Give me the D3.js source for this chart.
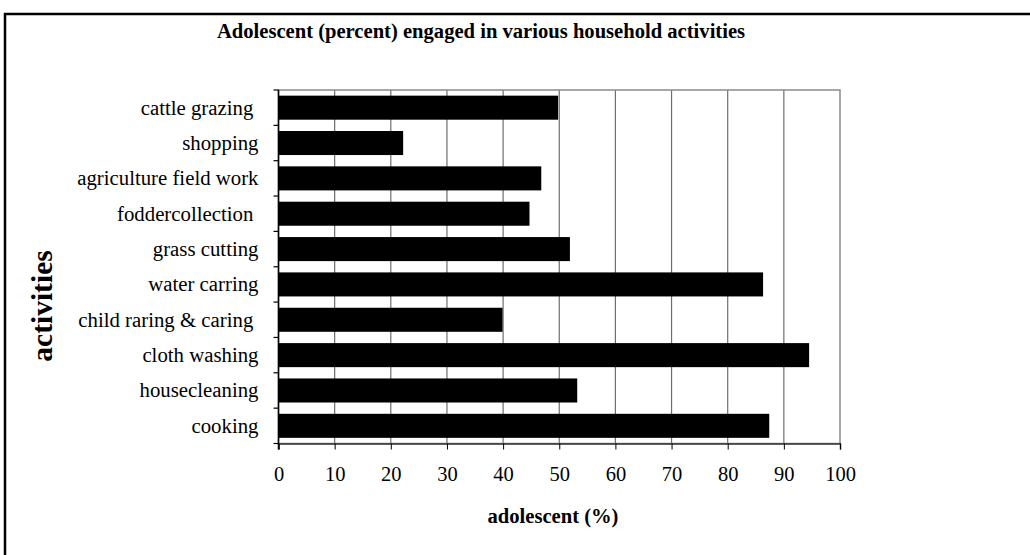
<!DOCTYPE html>
<html>
<head>
<meta charset="utf-8">
<script src="https://cdn.jsdelivr.net/npm/d3@7"></script>
<style>
  html, body { margin: 0; padding: 0; background: #fff; }
  svg { display: block; font-family: "Liberation Serif", "Times New Roman", serif; }
  .cat { white-space: pre; }
</style>
</head>
<body>
<script>
// Household activities, listed top to bottom
const categories = [
  "cattle grazing ",
  "shopping",
  "agriculture field work",
  "foddercollection ",
  "grass cutting",
  "water carring",
  "child raring & caring ",
  "cloth washing",
  "housecleaning",
  "cooking"
];
// Share of adolescents engaged in each activity (%)
const values = [49.8, 22.2, 46.8, 44.7, 51.9, 86.3, 39.9, 94.5, 53.2, 87.4];
const xTicks = [0, 10, 20, 30, 40, 50, 60, 70, 80, 90, 100];

const titleText = "Adolescent (percent) engaged in various household activities";
const xTitle = "adolescent (%)";
const yTitle = "activities";

const W = 1030, H = 555;
const plot = { left: 278.5, right: 840, top: 90, bottom: 443.5 };

const svg = d3.select("body").append("svg")
  .attr("width", W).attr("height", H);

// outer frame (open to the right and bottom)
svg.append("path")
  .attr("d", `M5,${H + 5} V14 H${W + 5}`)
  .attr("fill", "none").attr("stroke", "#000").attr("stroke-width", 2.5);

const x = d3.scaleLinear().domain([0, 100]).range([plot.left, plot.right]);
const y = d3.scaleBand().domain(categories)
  .range([plot.top, plot.bottom])
  .paddingInner(0.32).paddingOuter(0.16);

// vertical gridlines
svg.append("g").selectAll("line")
  .data(xTicks.filter(t => t > 0 && t < 100))
  .join("line")
  .attr("x1", d => x(d)).attr("x2", d => x(d))
  .attr("y1", plot.top).attr("y2", plot.bottom)
  .attr("stroke", "#6e6e6e").attr("stroke-width", 1.2);

// plot frame
svg.append("rect")
  .attr("x", plot.left).attr("y", plot.top)
  .attr("width", plot.right - plot.left).attr("height", plot.bottom - plot.top)
  .attr("fill", "none").attr("stroke", "#8a8a8a").attr("stroke-width", 1.5);

// bars
svg.append("g").selectAll("rect")
  .data(categories)
  .join("rect")
  .attr("x", x(0))
  .attr("y", d => y(d))
  .attr("width", (d, i) => x(values[i]) - x(0))
  .attr("height", y.bandwidth())
  .attr("fill", "#000");

// x axis
const xAxis = svg.append("g")
  .attr("transform", `translate(0,${plot.bottom})`)
  .call(d3.axisBottom(x).tickValues(xTicks).tickSize(6).tickPadding(17))
  .call(g => g.select(".domain").attr("stroke", "#333").attr("stroke-width", 1.5));
xAxis.selectAll(".tick line").attr("stroke", "#000");
xAxis.selectAll("text").attr("font-size", 20.5).attr("font-family", "Liberation Serif").attr("fill", "#000");

// y axis line and ticks at category boundaries
svg.append("line")
  .attr("x1", plot.left).attr("x2", plot.left)
  .attr("y1", plot.top).attr("y2", plot.bottom + 6)
  .attr("stroke", "#000").attr("stroke-width", 1.5);
svg.append("g").selectAll("line")
  .data(d3.range(categories.length + 1))
  .join("line")
  .attr("x1", plot.left - 5).attr("x2", plot.left)
  .attr("y1", i => plot.top + i * (plot.bottom - plot.top) / categories.length)
  .attr("y2", i => plot.top + i * (plot.bottom - plot.top) / categories.length)
  .attr("stroke", "#000").attr("stroke-width", 1.2);

// category labels
svg.append("g").selectAll("text")
  .data(categories)
  .join("text")
  .attr("class", "cat")
  .attr("x", plot.left - 20)
  .attr("y", d => y(d) + y.bandwidth() / 2)
  .attr("dy", "0.33em")
  .attr("text-anchor", "end")
  .attr("font-size", 20.8)
  .text(d => d);

// title
svg.append("text")
  .attr("x", 481).attr("y", 38)
  .attr("text-anchor", "middle")
  .attr("font-size", 20.6).attr("font-weight", "bold")
  .text(titleText);

// x axis title
svg.append("text")
  .attr("x", 553).attr("y", 523)
  .attr("text-anchor", "middle")
  .attr("font-size", 20.6).attr("font-weight", "bold")
  .text(xTitle);

// y axis title
svg.append("text")
  .attr("transform", "translate(52,306) rotate(-90)")
  .attr("text-anchor", "middle")
  .attr("font-size", 29.5).attr("font-weight", "bold")
  .text(yTitle);
</script>
</body>
</html>
